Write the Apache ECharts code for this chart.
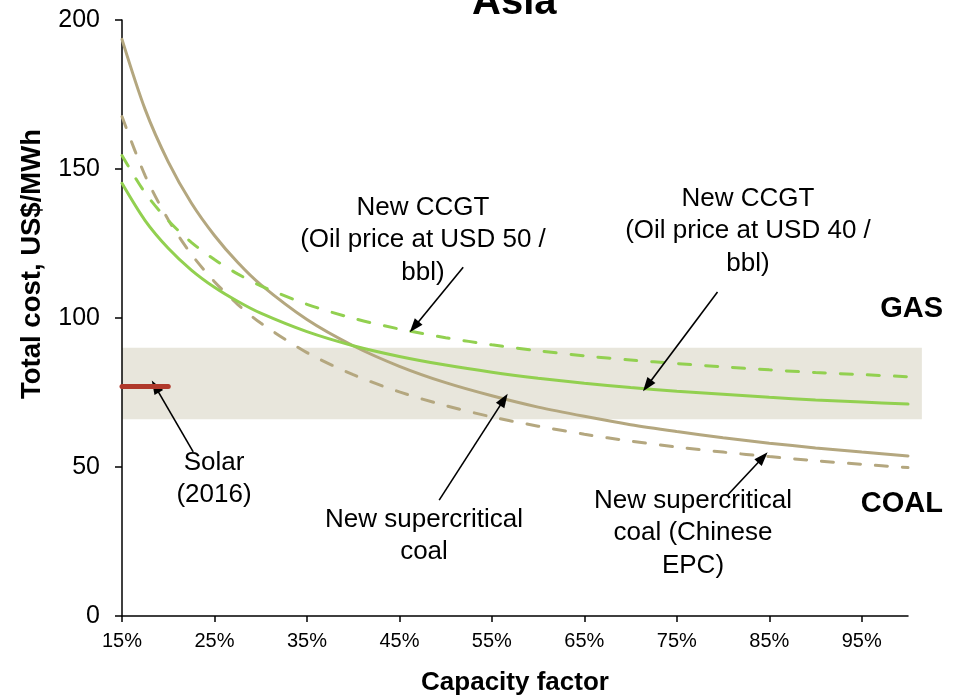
<!DOCTYPE html>
<html>
<head>
<meta charset="utf-8">
<script src="https://cdn.jsdelivr.net/npm/echarts@6/dist/echarts.min.js"></script>
<style>
  html, body { margin: 0; padding: 0; background: #ffffff; }
  #chart { width: 961px; height: 699px; }
</style>
</head>
<body>
<div id="chart"></div>
<script>
// ---- Data ----
const capacityFactor = [15, 17.5, 20, 22.5, 25, 27.5, 30, 35, 40, 45, 50, 55, 60, 65, 70, 75, 80, 85, 90, 95, 100];
const coalSupercritical = [193.5, 170.0, 152.4, 138.6, 127.7, 118.7, 111.2, 99.5, 90.7, 83.8, 78.3, 73.9, 70.1, 67.0, 64.2, 61.9, 59.8, 58.0, 56.4, 55.0, 53.7];
const coalChineseEPC = [167.6, 147.8, 133.0, 121.4, 112.2, 104.6, 98.3, 88.4, 81.0, 75.2, 70.6, 66.8, 63.7, 61.0, 58.7, 56.7, 55.0, 53.5, 52.1, 50.9, 49.8];
const ccgtOil40 = [145.2, 132.7, 123.4, 116.1, 110.3, 105.6, 101.6, 95.4, 90.7, 87.1, 84.2, 81.8, 79.8, 78.1, 76.7, 75.4, 74.4, 73.4, 72.5, 71.8, 71.1];
const ccgtOil50 = [154.5, 142.0, 132.7, 125.4, 119.6, 114.8, 110.8, 104.6, 99.9, 96.3, 93.4, 91.0, 89.0, 87.3, 85.9, 84.7, 83.6, 82.6, 81.7, 81.0, 80.3];
const solarCF = [15, 20];
const solarCost = [77, 77];
const coalBandCost = [66, 90];        // shaded band, low / high
const coalBandCF = [15, 101.5];       // band runs a bit past the axis end
const xTickValues = [15, 25, 35, 45, 55, 65, 75, 85, 95];
const yTickValues = [0, 50, 100, 150, 200];

// arrows: [from CF, from cost] -> [to CF, to cost]
const arrows = [
  [[22.7, 55.1], [18.6, 77.0]],
  [[51.9, 117.0], [46.6, 97.0]],
  [[79.4, 108.7], [71.8, 77.3]],
  [[49.3, 38.9], [56.3, 72.6]],
  [[80.5, 40.6], [84.3, 53.2]]
];

const pair = (xs, ys) => xs.map((x, i) => [x, ys[i]]);
const FONT = "'Liberation Sans', Arial, Helvetica, sans-serif";
const TAN = '#B4A77F';
const GREEN = '#92D050';

const chart = echarts.init(document.getElementById('chart'), null, { renderer: 'canvas' });

const textEl = (x, y, text, size, weight, align, rotation) => ({
  type: 'text', x: x, y: y, z: 100, silent: true, rotation: rotation || 0,
  style: {
    text: text, fill: '#000', fontFamily: FONT, fontSize: size, fontWeight: weight || 'normal',
    align: align || 'center', verticalAlign: 'middle', lineHeight: size === 26 ? 32.5 : size
  }
});

const option = {
  animation: false,
  backgroundColor: '#ffffff',
  title: {
    text: 'Asia', left: 472, top: -17, padding: 0,
    textStyle: { fontFamily: FONT, fontSize: 40, fontWeight: 'bold', color: '#000' }
  },
  grid: { left: 122, right: 53, top: 20, bottom: 83, containLabel: false, outerBoundsMode: 'none' },
  xAxis: {
    type: 'value', min: 15, max: 100,
    name: 'Capacity factor', nameLocation: 'middle', nameGap: 54,
    nameTextStyle: { fontFamily: FONT, fontSize: 26, fontWeight: 'bold', color: '#000' },
    axisLine: { show: true, lineStyle: { color: '#000', width: 1.5 } },
    axisTick: { show: true, length: 6, lineStyle: { color: '#000', width: 1.5 }, customValues: xTickValues },
    axisLabel: { customValues: xTickValues, formatter: v => v + '%', fontFamily: FONT, fontSize: 20, color: '#000', margin: 15 },
    splitLine: { show: false }
  },
  yAxis: {
    type: 'value', min: 0, max: 200, interval: 50,
    axisLine: { show: true, lineStyle: { color: '#000', width: 1.5 } },
    axisTick: { show: true, length: 7, lineStyle: { color: '#000', width: 1.5 } },
    axisLabel: { fontFamily: FONT, fontSize: 25, color: '#000', margin: 22, customValues: yTickValues },
    splitLine: { show: false }
  },
  series: [
    {
      type: 'custom', name: 'band', z: -1, clip: false, silent: true,
      data: [[coalBandCF[0], coalBandCF[1], coalBandCost[0], coalBandCost[1]]],
      encode: { x: [0, 1], y: [2, 3] },
      renderItem: (params, api) => {
        const a = api.coord([api.value(0), api.value(3)]);
        const b = api.coord([api.value(1), api.value(2)]);
        return { type: 'rect', shape: { x: a[0], y: a[1], width: b[0] - a[0], height: b[1] - a[1] }, style: { fill: '#E8E6DC' } };
      }
    },
    {
      type: 'line', name: 'New supercritical coal (Chinese EPC)', data: pair(capacityFactor, coalChineseEPC),
      smooth: 0.3, showSymbol: false, z: 3,
      lineStyle: { color: TAN, width: 3, type: [12, 15], cap: 'round' }
    },
    {
      type: 'line', name: 'New supercritical coal', data: pair(capacityFactor, coalSupercritical),
      smooth: 0.3, showSymbol: false, z: 3,
      lineStyle: { color: TAN, width: 3, cap: 'round' }
    },
    {
      type: 'line', name: 'New CCGT (USD 50)', data: pair(capacityFactor, ccgtOil50),
      smooth: 0.3, showSymbol: false, z: 4,
      lineStyle: { color: GREEN, width: 3, type: [12, 15], cap: 'round' }
    },
    {
      type: 'line', name: 'New CCGT (USD 40)', data: pair(capacityFactor, ccgtOil40),
      smooth: 0.3, showSymbol: false, z: 4,
      lineStyle: { color: GREEN, width: 3, cap: 'round' }
    },
    {
      type: 'line', name: 'Solar (2016)', data: pair(solarCF, solarCost),
      showSymbol: false, z: 5,
      lineStyle: { color: '#B0392B', width: 5, cap: 'round' },
      markLine: {
        silent: true, animation: false,
        symbol: ['none', 'triangle'], symbolSize: [10, 14],
        label: { show: false },
        lineStyle: { color: '#000', width: 1.6, type: 'solid' },
        emphasis: { disabled: true },
        data: arrows.map(a => [{ coord: a[0] }, { coord: a[1] }])
      }
    }
  ],
  graphic: {
    elements: [
      textEl(32, 264, 'Total cost, US$/MWh', 27.5, 'bold', 'center', Math.PI / 2),
      textEl(423, 240, 'New CCGT\n(Oil price at USD 50 /\nbbl)', 26),
      textEl(748, 231, 'New CCGT\n(Oil price at USD 40 /\nbbl)', 26),
      textEl(214, 479, 'Solar\n(2016)', 26),
      textEl(424, 536, 'New supercritical\ncoal', 26),
      textEl(693, 533, 'New supercritical\ncoal (Chinese\nEPC)', 26),
      textEl(943, 309, 'GAS', 29, 'bold', 'right'),
      textEl(943, 504, 'COAL', 29, 'bold', 'right')
    ]
  }
};

chart.setOption(option);
</script>
</body>
</html>
